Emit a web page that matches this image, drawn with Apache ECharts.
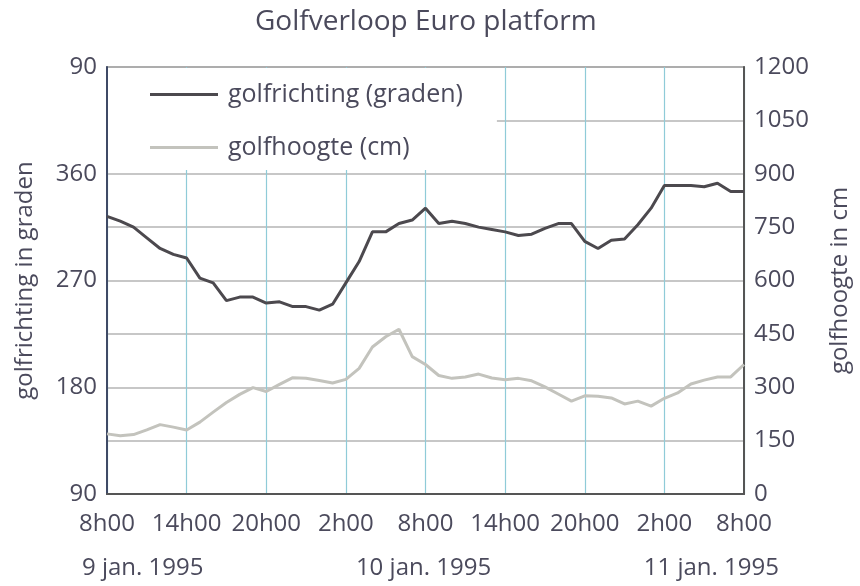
<!DOCTYPE html>
<html>
<head>
<meta charset="utf-8">
<script src="https://cdn.jsdelivr.net/npm/echarts@6/dist/echarts.min.js"></script>
<style>
  html, body { margin: 0; padding: 0; background: #fff; }
  #chart { width: 860px; height: 586px; }
</style>
</head>
<body>
<div id="chart"></div>
<script>
// tick labels
const timeTicks = ['8h00', '14h00', '20h00', '2h00', '8h00', '14h00', '20h00', '2h00', '8h00']
const degreeTicks = ['90', '180', '270', '360', '90']
const dateLabels = [
  { hour: 0, text: '9 jan. 1995', align: 'left', shift: -25 },
  { hour: 24, text: '10 jan. 1995', align: 'center', shift: -2 },
  { hour: 48, text: '11 jan. 1995', align: 'right', shift: 35 }
]

// hourly readings, from 9 jan 8h00 to 11 jan 8h00
const golfrichting = [
  324, 320, 315, 306, 297, 292, 289, 272, 268, 253,
  256, 256, 251, 252, 248, 248, 245, 250, 268, 286,
  311, 311, 318, 321, 331, 318, 320, 318, 315, 313,
  311, 308, 309, 314, 318, 318, 303, 297, 304, 305,
  317, 331, 350, 350, 350, 349, 352, 345, 345
]
const golfhoogte = [
  169, 164, 167, 180, 195, 188, 180, 202, 230, 257,
  280, 299, 288, 308, 327, 325, 319, 312, 322, 353,
  413, 442, 463, 386, 364, 333, 325, 329, 337, 326,
  321, 325, 318, 301, 281, 261, 276, 275, 270, 253,
  261, 247, 269, 284, 309, 320, 329, 329, 364
]

const textColor = '#4b4a5c'
const fontFamily = 'Open Sans'

const chart = echarts.init(document.getElementById('chart'))

const option = {
  animation: false,
  backgroundColor: '#fff',
  textStyle: { fontFamily: fontFamily, color: textColor },
  title: {
    text: 'Golfverloop Euro platform',
    left: 250,
    top: 3,
    textStyle: { fontFamily: fontFamily, fontSize: 28, fontWeight: 'normal', color: textColor }
  },
  legend: {
    orient: 'vertical',
    left: 108,
    top: 68,
    padding: [14, 34, 10, 42],
    backgroundColor: '#fff',
    icon: 'rect',
    itemWidth: 68,
    itemHeight: 3,
    itemGap: 28,
    textStyle: { fontSize: 25, color: textColor, fontFamily: fontFamily, padding: [0, 0, 0, 5] },
    data: ['golfrichting (graden)', 'golfhoogte (cm)']
  },
  grid: {
    left: 107,
    right: 112,
    top: 67,
    bottom: 92,
    show: true,
    borderColor: '#777',
    borderWidth: 1.5
  },
  xAxis: {
    type: 'value',
    min: 0,
    max: 48,
    interval: 6,
    axisLine: { show: true, lineStyle: { color: '#555', width: 2 } },
    axisTick: { show: false },
    splitLine: { show: true, lineStyle: { color: '#8fcbd8', width: 1.2 } },
    axisLabel: {
      margin: 18,
      fontSize: 24,
      color: textColor,
      fontFamily: fontFamily,
      formatter: (v) => timeTicks[v / 6]
    }
  },
  yAxis: [
    {
      type: 'value',
      min: 90,
      max: 450,
      interval: 90,
      position: 'left',
      name: 'golfrichting in graden',
      nameLocation: 'middle',
      nameRotate: 90,
      nameGap: 70,
      nameTextStyle: { fontSize: 24, color: textColor, fontFamily: fontFamily },
      axisLine: { show: true, lineStyle: { color: '#3f4a66', width: 2 } },
      axisTick: { show: false },
      splitLine: { show: false },
      axisLabel: {
        margin: 10,
        fontSize: 24,
        color: textColor,
        fontFamily: fontFamily,
        formatter: (v) => degreeTicks[(v - 90) / 90]
      }
    },
    {
      type: 'value',
      min: 0,
      max: 1200,
      interval: 150,
      position: 'right',
      name: 'golfhoogte in cm',
      nameLocation: 'middle',
      nameRotate: 90,
      nameGap: 84,
      nameTextStyle: { fontSize: 24, color: textColor, fontFamily: fontFamily },
      axisLine: { show: true, lineStyle: { color: '#555', width: 2 } },
      axisTick: { show: false },
      splitLine: { show: true, lineStyle: { color: '#b4b4b4', width: 1.5 } },
      axisLabel: {
        margin: 10,
        fontSize: 24,
        color: textColor,
        fontFamily: fontFamily,
        formatter: (v) => String(v)
      }
    }
  ],
  series: [
    {
      name: 'golfrichting (graden)',
      type: 'line',
      yAxisIndex: 0,
      symbol: 'none',
      z: 3,
      lineStyle: { color: '#4c494e', width: 3 },
      itemStyle: { color: '#4c494e' },
      data: golfrichting.map((v, i) => [i, v])
    },
    {
      name: 'golfhoogte (cm)',
      type: 'line',
      yAxisIndex: 1,
      symbol: 'none',
      z: 2,
      lineStyle: { color: '#c3c3bd', width: 3 },
      itemStyle: { color: '#c3c3bd' },
      data: golfhoogte.map((v, i) => [i, v])
    }
  ]
}

chart.setOption(option)

// date labels under the time axis, placed from the axis scale
const baseY = chart.convertToPixel({ yAxisIndex: 1 }, 0)
chart.setOption({
  graphic: dateLabels.map((d) => ({
    type: 'text',
    x: chart.convertToPixel({ xAxisIndex: 0 }, d.hour) + d.shift,
    y: baseY + 74,
    style: {
      text: d.text,
      align: d.align,
      verticalAlign: 'middle',
      fontSize: 24,
      fill: textColor,
      fontFamily: fontFamily
    }
  }))
})
</script>
</body>
</html>
